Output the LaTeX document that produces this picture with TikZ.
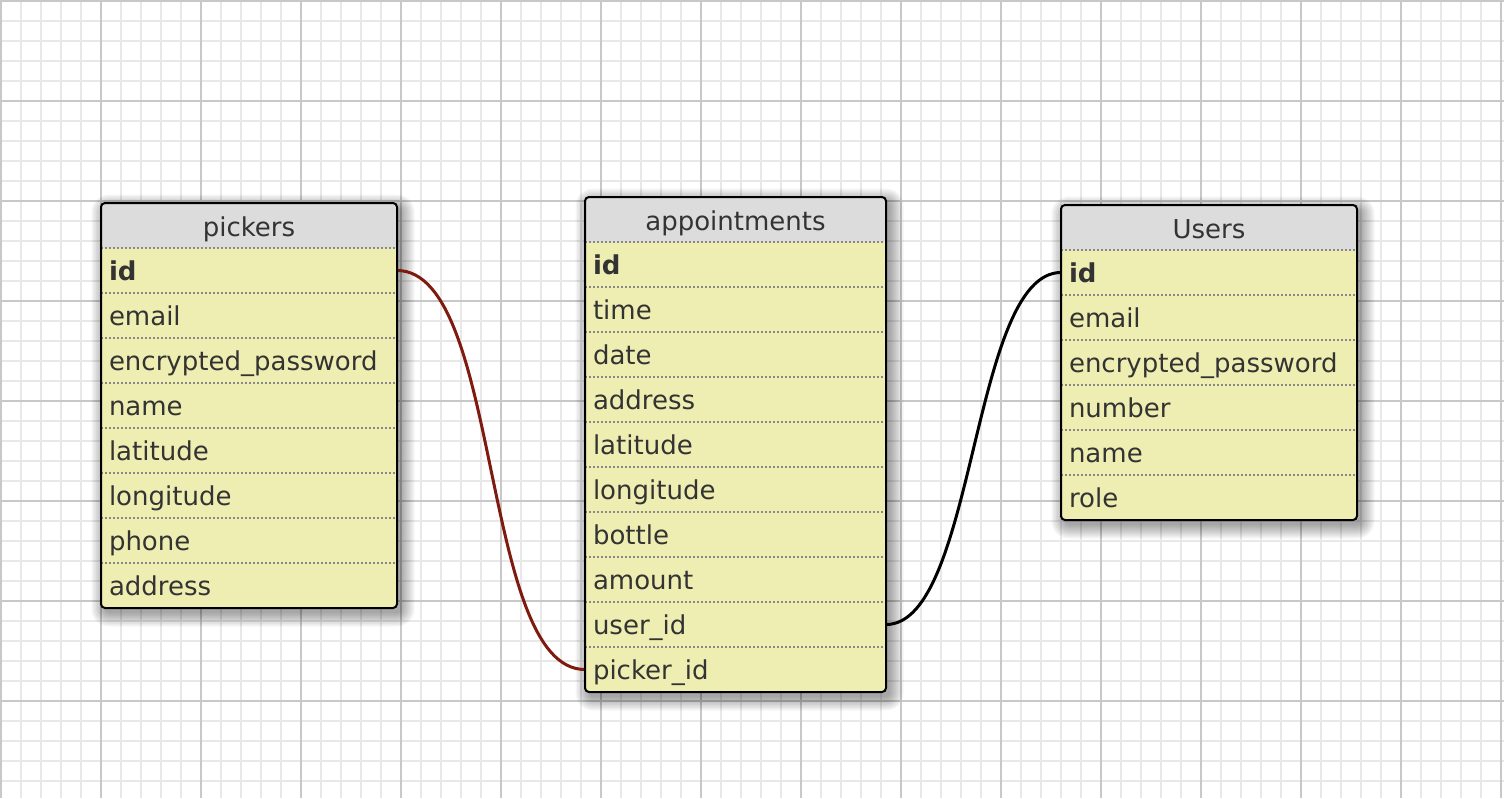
\documentclass[tikz,border=0pt]{standalone}
\usepackage{fontspec}
\setmainfont{DejaVu Sans}
\pgfdeclarelayer{grid}
\pgfdeclarelayer{shade}
\pgfsetlayers{grid,shade,main}
\definecolor{rowfill}{HTML}{EEEEB2}
\definecolor{headfill}{HTML}{DCDCDC}
\definecolor{txt}{HTML}{333333}
\definecolor{fineg}{HTML}{E8E8E8}
\definecolor{majorg}{HTML}{C8C8C8}
\definecolor{sepg}{HTML}{888888}
\definecolor{fkred}{HTML}{7F1A0E}
\begin{document}
\begin{tikzpicture}[x=1pt,y=-1pt,
  cell/.style={anchor=north west, minimum width=#1, text width=#1-16pt,
    minimum height=45pt, inner xsep=8pt, inner ysep=0pt, outer sep=0pt, text=txt,
    font=\fontsize{26}{30}\selectfont, align=left, text height=22.5pt, text depth=2.5pt},
  headcell/.style={cell=#1, align=center, text height=23pt, text depth=2pt},
  sepline/.style={draw=sepg, line width=1.6pt, dash pattern=on 2pt off 2pt},
  border/.style={draw=black, line width=2pt, rounded corners=4pt},
  shadowlayer/.style={fill=black, fill opacity=0.04},
  fk/.style={line width=3pt}]
\useasboundingbox (0,0) rectangle (1504,798);

% ---------- pickers ----------
\node[headcell=296] (ph) at (101,203) {pickers};
\node[cell=296] (p1) at (ph.south west) {\textbf{id}};
\node[cell=296] (p2) at (p1.south west) {email};
\node[cell=296] (p3) at (p2.south west) {encrypted\_password};
\node[cell=296] (p4) at (p3.south west) {name};
\node[cell=296] (p5) at (p4.south west) {latitude};
\node[cell=296] (p6) at (p5.south west) {longitude};
\node[cell=296] (p7) at (p6.south west) {phone};
\node[cell=296] (p8) at (p7.south west) {address};

% ---------- appointments ----------
\node[headcell=301] (ah) at (585,197) {appointments};
\node[cell=301] (a1) at (ah.south west) {\textbf{id}};
\node[cell=301] (a2) at (a1.south west) {time};
\node[cell=301] (a3) at (a2.south west) {date};
\node[cell=301] (a4) at (a3.south west) {address};
\node[cell=301] (a5) at (a4.south west) {latitude};
\node[cell=301] (a6) at (a5.south west) {longitude};
\node[cell=301] (a7) at (a6.south west) {bottle};
\node[cell=301] (a8) at (a7.south west) {amount};
\node[cell=301] (a9) at (a8.south west) {user\_id};
\node[cell=301] (a10) at (a9.south west) {picker\_id};

% ---------- Users ----------
\node[headcell=296] (uh) at (1061,205) {Users};
\node[cell=296] (u1) at (uh.south west) {\textbf{id}};
\node[cell=296] (u2) at (u1.south west) {email};
\node[cell=296] (u3) at (u2.south west) {encrypted\_password};
\node[cell=296] (u4) at (u3.south west) {number};
\node[cell=296] (u5) at (u4.south west) {name};
\node[cell=296] (u6) at (u5.south west) {role};

% ---------- grid ----------
\begin{pgfonlayer}{grid}
  \fill[white] (0,0) rectangle (1504,798);
  \foreach \x in {1,21,...,1504} \draw[fineg, line width=1.5pt] (\x,0) -- (\x,798);
  \foreach \y in {1,21,...,798} \draw[fineg, line width=1.5pt] (0,\y) -- (1504,\y);
  \foreach \x in {1,101,...,1504} \draw[majorg, line width=2pt] (\x,0) -- (\x,798);
  \foreach \y in {1,101,...,798} \draw[majorg, line width=2pt] (0,\y) -- (1504,\y);
\end{pgfonlayer}

% ---------- table backgrounds and shadows ----------
\begin{pgfonlayer}{shade}
  \foreach \h/\l in {ph/p8, ah/a10, uh/u6} {
    \foreach \r in {0,1.5,...,13.5} {
      \pgfmathsetmacro{\rc}{4+\r}
      \fill[shadowlayer, rounded corners=\rc pt]
        ([shift={(4-\r,5-\r)}]\h.north west) rectangle ([shift={(4+\r,5+\r)}]\l.south east);
    }
    \fill[rowfill, rounded corners=4pt] (\h.north west) rectangle (\l.south east);
    \begin{scope}
      \clip[rounded corners=4pt] (\h.north west) rectangle (\l.south east);
      \fill[headfill] (\h.north west) rectangle (\h.south east);
    \end{scope}
  }
\end{pgfonlayer}

% ---------- separators ----------
\foreach \r in {p1,p2,p3,p4,p5,p6,p7,p8,a1,a2,a3,a4,a5,a6,a7,a8,a9,a10,u1,u2,u3,u4,u5,u6}
  \draw[sepline] (\r.north west) -- (\r.north east);

% ---------- connectors ----------
\draw[fk, fkred] (p1.east) .. controls +(105,0) and +(-105,0) .. (a10.west);
\draw[fk, black] (a9.east) .. controls +(90,0) and +(-90,0) .. (u1.west);

% ---------- borders ----------
\draw[border] (ph.north west) rectangle (p8.south east);
\draw[border] (ah.north west) rectangle (a10.south east);
\draw[border] (uh.north west) rectangle (u6.south east);
\end{tikzpicture}
\end{document}
